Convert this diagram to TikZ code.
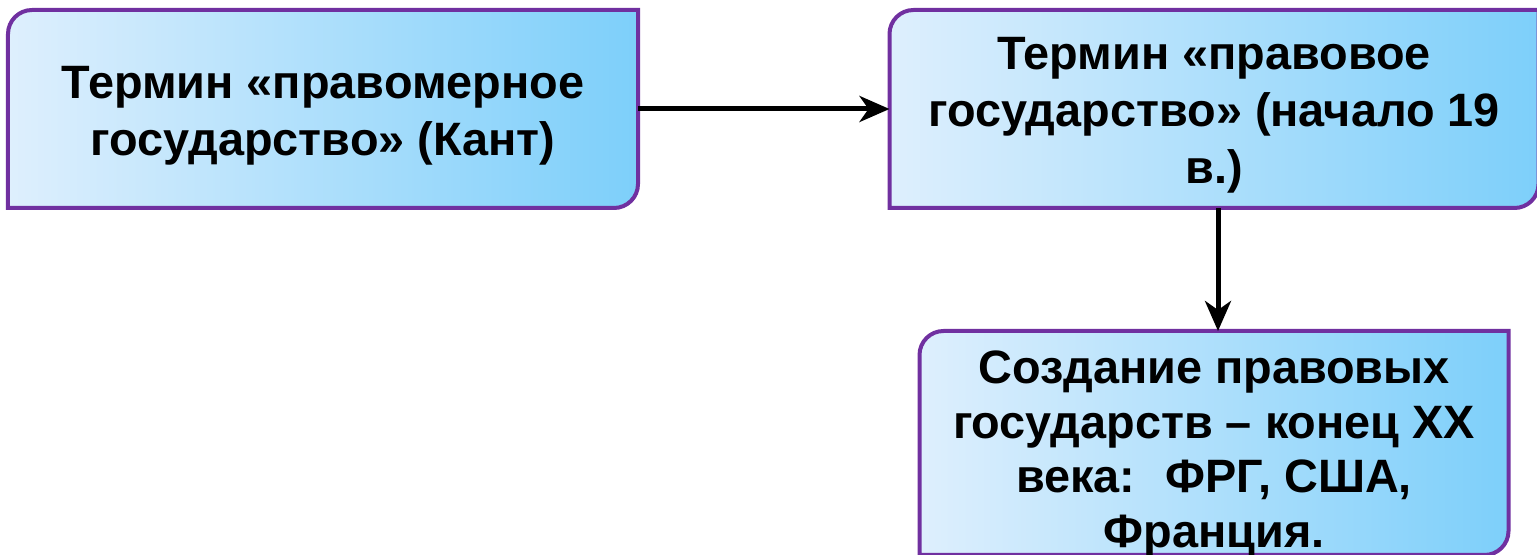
\documentclass[tikz,border=0pt]{standalone}
\usepackage{fontspec}
\setmainfont{Liberation Sans}
\usepackage{tikz}
\usetikzlibrary{arrows.meta}
\usepackage{xcolor}
\definecolor{ColLine}{RGB}{112,48,160}
\definecolor{ColLeft}{RGB}{222,239,253}
\definecolor{ColRight}{RGB}{125,207,250}
\tikzstyle{BoxNode}=[inner sep=0pt,outer sep=2bp]
\tikzstyle{BoxText}=[inner sep=0pt,align=center,font=\bfseries\fontsize{47}{57}\selectfont]
\tikzstyle{BoxLine}=[draw=ColLine,line width=4bp,left color=ColLeft,right color=ColRight]
\tikzstyle{ArcBox}=[line width=5bp,-{Stealth[length=30bp,width=26bp,inset=9bp]}]
\newcommand\BoxFrame[1]{%
  \draw[BoxLine](#1.south west)--([yshift=-24bp]#1.north west)
    arc[start angle=180,end angle=90,radius=24bp]--(#1.north east)
    --([yshift=24bp]#1.south east)
    arc[start angle=0,end angle=-90,radius=24bp]--cycle;}

\begin{document}
\begin{tikzpicture}[x=1bp,y=1bp]
        \useasboundingbox(0,0)rectangle(1537,555);
        \node[BoxNode,minimum width=626bp,minimum height=194bp](a)at(323,446){};
        \node[BoxNode,minimum width=645bp,minimum height=194bp](b)at(1214,446){};
        \node[BoxNode,minimum width=585bp,minimum height=220bp](c)at(1214,112){};
        \BoxFrame{a}
        \BoxFrame{b}
        \BoxFrame{c}
        \node[BoxText](ta)at([yshift=-7bp]a.center)
            {Термин «правомерное\\государство» (Кант)};
        \node[BoxText](tb)at([yshift=-6bp]b.center)
            {Термин «правовое\\государство» (начало 19\\в.)};
        \node[BoxText,font=\bfseries\fontsize{47}{55}\selectfont](tc)at([yshift=-11bp]c.center)
            {Создание правовых\\государств – конец XX\\века:~ ФРГ, США,\\Франция.};
        \draw[ArcBox](a)--(b);
        \draw[ArcBox]([xshift=4bp]b.south)--([xshift=4bp]c.north);
    \end{tikzpicture}
\end{document}
